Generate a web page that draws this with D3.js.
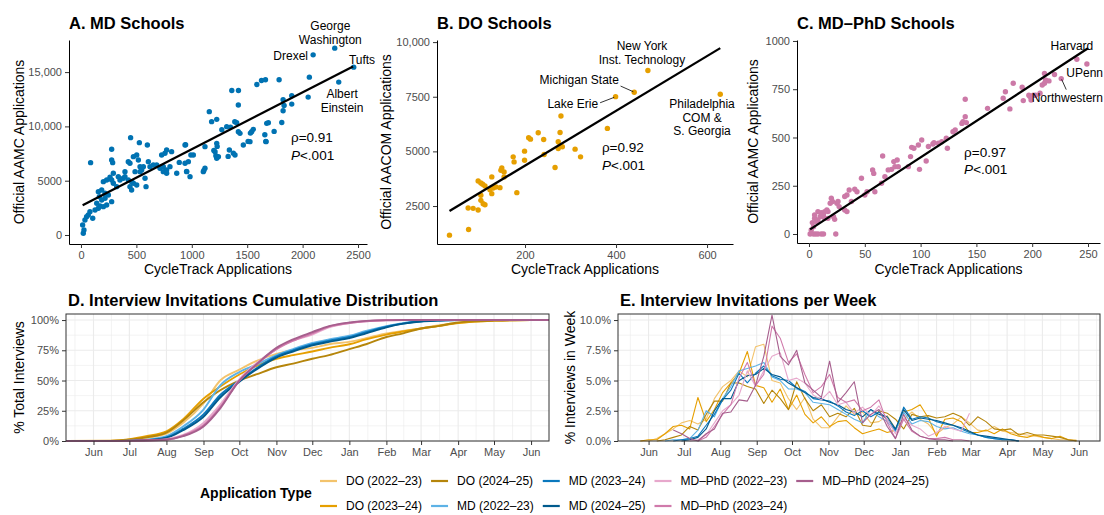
<!DOCTYPE html>
<html>
<head>
<meta charset="utf-8">
<script src="https://cdn.jsdelivr.net/npm/d3@7"></script>
<style>
  body { margin: 0; background: #fff; }
  svg { font-family: "Liberation Sans", Arial, Helvetica, sans-serif; }
</style>
</head>
<body>
<svg id="chart" width="1104" height="515"></svg>
<script>
// ---- panel A-C data: [CycleTrack applications, official applications]
const mdPoints = [
  [21,155],[27,462],[15,922],[36,1383],[51,1690],[66,1843],[81,2150],[106,1536],[127,2303],[157,2457],
  [172,2672],[142,2917],[187,3224],[202,2610],[232,2764],[277,3071],[166,3531],[217,3377],[157,3991],[187,4145],
  [217,3838],[247,3684],[292,4759],[322,4452],[277,5065],[232,5065],[202,4912],[262,5311],[292,5679],[337,5372],
  [352,5065],[382,5219],[397,5372],[427,5065],[457,4912],[442,4452],[473,4759],[503,4605],[457,4145],[442,6600],
  [473,7214],[503,7367],[518,6907],[533,6293],[548,5986],[427,6753],[397,5832],[488,5832],[533,5832],[563,6293],
  [578,5219],[587,4452],[608,6753],[623,6293],[653,6447],[683,6447],[713,6140],[743,6293],[773,5986],[803,6293],
  [758,7521],[728,7367],[773,7828],[818,7674],[743,5832],[773,5679],[864,5679],[939,6600],[954,5832],[969,6753],
  [984,5372],[939,8288],[1014,7367],[1104,5832],[1119,6140],[1119,8135],[1158,11357],[1179,10436],[1225,10651],[1225,8441],
  [1210,7674],[1225,7060],[1240,7214],[1315,9976],[1339,7828],[1375,7521],[1390,7367],[1405,10344],[1420,9515],[1435,9362],
  [1465,8288],[1525,8595],[1540,9515],[1555,9730],[1420,11971],[1676,10283],[1670,8595],[1691,10344],[277,7889],[277,6907],
  [286,6661],[448,8963],[527,8503],[599,8288],[87,6661],[1587,13863],[1629,14231],[1665,14292],[1788,14292],[1361,13311],
  [1421,13311],[1824,12452],[1902,12820],[1833,11930],[1824,11440],[1812,10366],[1902,12053],[1743,9538],[2061,14537],[2050,12697],
  [2290,17206],[2095,16590],[2461,15457],[2326,14077],[944,8311],[992,7360],[887,6685],[953,5858],[1109,5950],[1217,7300],
  [1229,8158],[1199,7790],[1328,7238],[1349,9937],[1388,10428],[1508,8618],[1529,9385],[1659,9231],[1668,8618],[1271,9692]
];
const doPoints = [
  [34,1168],[76,1429],[75,2408],[86,2393],[97,2316],[97,3648],[103,3556],[107,3495],[112,3418],[103,2760],
  [103,2990],[108,2607],[112,2561],[123,3250],[127,3066],[127,3832],[130,3327],[136,3373],[145,3342],[149,4245],
  [154,4061],[154,3832],[147,4138],[182,3112],[174,4750],[176,4520],[199,5010],[199,4597],[208,5623],[212,5561],
  [229,5852],[241,5546],[242,4857],[266,4260],[273,5439],[273,5133],[277,5867],[277,5255],[282,5209],[279,6617],
  [310,5102],[322,4750],[381,6051],[399,7505],[440,7704],[470,8699],[629,7612]
];
const phdPoints = [
  [1,0],[4,0],[6,0],[8,0],[11,0],[13,0],[24,0],[2,21],[4,38],[3,59],
  [5,81],[7,64],[8,73],[10,90],[11,111],[13,99],[14,116],[16,124],[17,116],[5,99],
  [8,116],[11,99],[14,81],[17,81],[22,90],[23,76],[19,159],[20,185],[21,168],[25,159],
  [26,168],[27,142],[32,124],[34,116],[32,194],[34,202],[36,228],[41,232],[43,219],[38,168],
  [47,289],[50,202],[52,219],[57,332],[58,314],[59,219],[65,263],[66,404],[68,297],[71,332],
  [74,335],[76,375],[79,383],[77,349],[80,349],[89,349],[91,401],[92,449],[94,444],[98,461],
  [101,487],[99,335],[105,378],[107,453],[111,466],[112,473],[116,470],[119,478],[124,444],[123,496],
  [129,530],[131,539],[137,573],[138,582],[140,608],[141,577],[140,698],[160,651],[174,703],[176,737],
  [180,648],[183,781],[191,760],[192,691],[197,719],[198,712],[199,694],[201,719],[203,719],[207,729],
  [209,772],[211,781],[212,798],[215,793],[211,832],[220,826],[226,805],[240,905],[249,881]
];

// fitted regression lines, end points
const mdFit = [[15,2730],[2455,15520]];
const doFit = [[34,2270],[629,9724]];
const phdFit = [[1,24],[250,962]];

const mdStats = ["ρ=0.91", "P<.001"];
const doStats = ["ρ=0.92", "P<.001"];
const phdStats = ["ρ=0.97", "P<.001"];

// school labels, anchored in data units
const mdLabels = [
  { lines: ["George", "Washington"], at: [2250, 18876], anchor: "middle" },
  { lines: ["Drexel"], at: [2049, 16114], anchor: "end" },
  { lines: ["Tufts"], at: [2536, 15746], anchor: "middle" },
  { lines: ["Albert", "Einstein"], at: [2356, 12615], anchor: "middle" }
];
const doLabels = [
  { lines: ["New York", "Inst. Technology"], at: [457, 9636], anchor: "middle" },
  { lines: ["Michigan State"], at: [319, 8081], anchor: "middle", seg: [[410, 7989], [438, 7729]] },
  { lines: ["Lake Erie"], at: [305, 6983], anchor: "middle", seg: [[365, 7225], [396, 7472]] },
  { lines: ["Philadelphia", "COM &", "S. Georgia"], at: [589, 6983], anchor: "middle" }
];
const phdLabels = [
  { lines: ["Harvard"], at: [235.6, 953], anchor: "middle" },
  { lines: ["UPenn"], at: [247, 813], anchor: "middle" },
  { lines: ["Northwestern"], at: [199.5, 684], anchor: "start", seg: [[226.4, 801], [230.5, 748]] }
];

// ---- panel D: cumulative share of interview invitations (%)
const cumDates = ["2023-05-09","2023-06-15","2023-07-01","2023-07-15","2023-08-01","2023-08-15","2023-09-01",
  "2023-09-15","2023-10-01","2023-10-15","2023-11-01","2023-11-15","2023-12-01","2023-12-15","2024-01-01",
  "2024-01-15","2024-02-01","2024-02-15","2024-03-01","2024-03-15","2024-04-01","2024-04-15","2024-05-01",
  "2024-06-01","2024-06-16"];
const cumDO22 = [0,0.1,0.8,2.5,6,15,31,50,59,66,72,75,77,80,82,85,89,91,93,95.5,97.5,98.8,99.5,100,100];
const cumDO23 = [0,0.2,1.5,4,8,18,35,45,55,62,68,71,74,77,80,84,88,90.5,93,95,97.5,98.8,99.5,100,100];
const cumDO24 = [0,0.1,1,3,7,17,32,42,50,55,61,64,68,71,76,80,86,89,93,95,98,99,99.5,100,100];
const cumMD22 = [0,0,0.2,1,4,12,26,46,57,63,71,76,81,84,87,91,95,97.5,99,99.7,100,100,100,100,100];
const cumMD23 = [0,0,0.1,0.6,3,10,22,38,50,60,70,75,80,83,86,90,94.5,97,99,99.6,100,100,100,100,100];
const cumMD24 = [0,0,0.1,0.5,2.5,9,20,36,49,59,69,74,79,82,85,89,94,97,98.8,99.5,100,100,100,100,100];
const cumPhD22 = [0,0,0,0.3,1.5,5,15,30,51,64,76,83,88,94,97.5,99,99.7,100,100,100,100,100,100,100,100];
const cumPhD23 = [0,0,0,0.2,1,4.5,13,28,50,63,76,83,89,94.5,97.5,99,99.8,100,100,100,100,100,100,100,100];
const cumPhD24 = [0,0,0.3,0.8,1.2,4,12,27,50,63,77,84,90,95,98,99.3,99.9,100,100,100,100,100,100,100,100];

// ---- panel E: share of interview invitations per week (%), weekly from a start date
const weekStart = {
  DO22: "2023-05-25", DO23: "2023-05-25", DO24: "2023-06-08",
  MD22: "2023-06-15", MD23: "2023-06-22", MD24: "2023-06-29",
  PhD22: "2023-07-06", PhD23: "2023-07-13", PhD24: "2023-06-22"
};
const wkDO22 = [0,0,0.2,0.6,1.0,1.5,1.7,1.4,1.8,3.5,4.5,5.0,5.8,5.3,7.8,8.0,5.0,4.8,3.5,2.6,3.6,1.8,1.1,1.1,2.0,2.9,
  2.2,2.4,1.5,1.6,2.1,1.0,1.8,2.4,1.8,1.4,0.6,1.1,1.4,2.0,1.5,0.9,0.8,1.2,0.8,0.7,0.6,0.5,0.4,0.3,0.2,0.1,0.1,0];
const wkDO23 = [0,0.1,0.1,0.6,1.2,1.3,1.0,3.6,1.6,2.6,4.0,4.8,5.6,7.4,4.6,4.4,3.2,4.3,2.6,3.8,2.2,1.5,2.0,1.2,1.6,
  1.7,1.1,0.6,0.8,1.0,0.7,0.9,2.4,2.6,3.0,1.9,0.4,1.8,1.9,1.6,0.7,0.7,0.9,0.6,1.0,0.6,0.4,0.3,0.5,0.3,0.2,0.4,0.1,0.05];
const wkDO24 = [0,0.1,0.3,0.5,1.2,0.9,2.2,3.3,3.3,4.8,4.8,4.5,4.3,3.1,4.2,3.5,2.6,4.9,3.5,2.5,3.0,2.0,2.3,2.0,2.7,1.3,
  1.2,2.5,2.3,1.8,1.0,2.2,2.0,2.1,1.9,2.0,2.3,2.0,1.3,2.0,1.6,1.0,0.9,1.0,0.5,0.7,0.5,0.5,0.4,0.3,0.1,0];
const wkMD22 = [0,0.1,0.1,0.2,0.9,2.5,2.0,3.5,4.5,5.8,6.0,6.2,6.5,5.3,5.0,4.3,4.3,4.0,3.2,3.1,3.0,2.6,2.2,1.8,1.5,
  2.6,2.0,1.6,0.8,2.4,1.4,1.7,1.6,1.2,1.0,1.1,0.8,0.6,0.5,0.3,0.2,0.1,0.1,0];
const wkMD23 = [0,0.1,0.2,0.4,1.3,2.2,3.4,4.2,5.6,4.8,5.6,6.2,5.4,5.1,5.0,4.4,4.1,3.5,3.4,3.3,2.9,2.4,2.1,2.5,2.0,
  2.4,1.8,0.9,2.8,1.8,2.0,1.9,1.6,1.4,1.3,1.0,0.7,0.5,0.3,0.2,0.1,0.1,0];
const wkMD24 = [0,0.1,0.3,1.0,2.5,3.5,3.5,5.0,5.4,5.5,6.0,5.5,5.3,4.8,4.4,4.0,3.6,3.5,3.2,3.0,2.6,2.4,2.0,2.6,2.2,
  2.0,1.0,2.6,1.7,1.9,1.8,1.7,1.5,1.3,1.1,0.8,0.5,0.4,0.3,0.2,0.1,0];
const wkPhD22 = [0,0.1,0.5,1.5,2.5,3.0,3.8,5.8,4.5,5.8,7.0,7.3,5.0,5.2,4.8,3.8,3.4,4.1,3.0,3.2,2.3,2.8,2.1,2.9,1.8,
  0.6,1.9,1.3,1.0,0.4,0.7,1.2,1.0,0.8,2.3];
const wkPhD23 = [0,0.3,1.2,2.2,3.0,5.2,6.5,4.6,5.5,9.5,8.5,6.5,7.2,5.5,4.0,4.5,5.5,3.6,3.2,3.4,2.5,2.8,3.4,1.5,0.2,
  1.8,0.8,0.4,0.2,0.2,0.3,0.1,0.1,0];
const wkPhD24 = [0.9,0.6,0.2,0,0.6,1.0,2.3,2.4,3.4,3.3,4.6,7.0,10.4,7.0,6.3,7.5,4.8,4.2,3.6,6.6,3.2,4.0,4.9,1.5,2.2,
  2.6,1.2,0.2,2.2,0.9,0.4,0.2,0.1,0.1,0];

const seriesKeys = ["DO22","DO23","DO24","MD22","MD23","MD24","PhD22","PhD23","PhD24"];
const seriesNames = ["DO (2022–23)","DO (2023–24)","DO (2024–25)","MD (2022–23)","MD (2023–24)","MD (2024–25)",
  "MD–PhD (2022–23)","MD–PhD (2023–24)","MD–PhD (2024–25)"];
const seriesColors = ["#F3C36C","#E69F00","#B5850B","#5DB2E6","#0A78BD","#005A8D","#E7A8CC","#D07AAB","#A65E8D"];
const cumValues = [cumDO22,cumDO23,cumDO24,cumMD22,cumMD23,cumMD24,cumPhD22,cumPhD23,cumPhD24];
const weekValues = [wkDO22,wkDO23,wkDO24,wkMD22,wkMD23,wkMD24,wkPhD22,wkPhD23,wkPhD24];

const monthTicksFrom = "2023-06-01", monthTicksTo = "2024-06-01";

// ------------------------------------------------------------------
const svg = d3.select("#chart");
const FONT = "'Liberation Sans', Arial, Helvetica, sans-serif";
const parse = d3.timeParse("%Y-%m-%d");
const bigComma = v => v >= 10000 ? d3.format(",")(v) : String(v);

function styleAxis(g, lineColor) {
  g.attr("font-family", FONT).attr("font-size", 11);
  g.selectAll(".tick line").attr("stroke", "#333");
  g.selectAll(".tick text").attr("fill", "#4D4D4D");
  g.select(".domain").attr("stroke", lineColor).attr("stroke-width", 1);
}

function scatterPanel(c) {
  const x = d3.scaleLinear().domain(c.xDomain).range([c.left, c.right]);
  const y = d3.scaleLinear().domain(c.yDomain).range([c.bottom, c.top]);
  const g = svg.append("g");

  g.append("g").attr("transform", `translate(0,${c.bottom})`)
    .call(d3.axisBottom(x).tickValues(c.xTicks).tickFormat(bigComma).tickSize(4).tickSizeOuter(0).tickPadding(3))
    .call(a => styleAxis(a, "#000"));
  g.append("g").attr("transform", `translate(${c.left},0)`)
    .call(d3.axisLeft(y).tickValues(c.yTicks).tickFormat(bigComma).tickSize(4).tickSizeOuter(0).tickPadding(3))
    .call(a => styleAxis(a, "#000"));

  g.append("g").selectAll("circle").data(c.points).join("circle")
    .attr("cx", d => x(d[0])).attr("cy", d => y(d[1])).attr("r", 2.7).attr("fill", c.color);

  g.append("line")
    .attr("x1", x(c.fit[0][0])).attr("y1", y(c.fit[0][1]))
    .attr("x2", x(c.fit[1][0])).attr("y2", y(c.fit[1][1]))
    .attr("stroke", "#000").attr("stroke-width", 2.3);

  c.labels.forEach(l => {
    if (l.seg) {
      g.append("line")
        .attr("x1", x(l.seg[0][0])).attr("y1", y(l.seg[0][1]))
        .attr("x2", x(l.seg[1][0])).attr("y2", y(l.seg[1][1]))
        .attr("stroke", "#000").attr("stroke-width", 0.8);
    }
    const t = g.append("text").attr("font-size", 12).attr("text-anchor", l.anchor)
      .attr("x", x(l.at[0])).attr("y", y(l.at[1]));
    l.lines.forEach((s, i) => t.append("tspan").attr("x", x(l.at[0])).attr("dy", i ? 13.5 : 0).text(s));
  });

  const st = g.append("text").attr("font-size", 13.5).attr("x", x(c.statAt[0])).attr("y", y(c.statAt[1]));
  st.append("tspan").text(c.stats[0]);
  st.append("tspan").attr("x", x(c.statAt[0])).attr("dy", 17.5)
    .attr("font-style", "italic").text(c.stats[1].slice(0, 1));
  st.append("tspan").text(c.stats[1].slice(1));

  g.append("text").attr("x", c.left).attr("y", 29).attr("font-size", 16.5).attr("font-weight", "bold").text(c.title);
  g.append("text").attr("x", (c.left + c.right) / 2).attr("y", 274).attr("text-anchor", "middle")
    .attr("font-size", 14).text("CycleTrack Applications");
  g.append("text").attr("transform", `translate(${c.yTitleX},${(c.top + c.bottom) / 2}) rotate(-90)`)
    .attr("text-anchor", "middle").attr("font-size", 14).text(c.yTitle);
}

scatterPanel({
  left: 69, right: 367, top: 40, bottom: 244,
  xDomain: [-108, 2581], yDomain: [-829, 17956],
  xTicks: [0, 500, 1000, 1500, 2000, 2500], yTicks: [0, 5000, 10000, 15000],
  points: mdPoints, fit: mdFit, color: "#0072B2", labels: mdLabels,
  stats: mdStats, statAt: [1895, 8563],
  title: "A. MD Schools", yTitle: "Official AAMC Applications", yTitleX: 24
});
scatterPanel({
  left: 437, right: 733, top: 40, bottom: 244,
  xDomain: [6.6, 657], yDomain: [763, 10096],
  xTicks: [200, 400, 600], yTicks: [2500, 5000, 7500, 10000],
  points: doPoints, fit: doFit, color: "#E69F00", labels: doLabels,
  stats: doStats, statAt: [369, 4971],
  title: "B. DO Schools", yTitle: "Official AACOM Applications", yTitleX: 391
});
scatterPanel({
  left: 797, right: 1100, top: 40, bottom: 243,
  xDomain: [-10.75, 260.75], yDomain: [-46.6, 1005],
  xTicks: [0, 50, 100, 150, 200, 250], yTicks: [0, 250, 500, 750, 1000],
  points: phdPoints, fit: phdFit, color: "#CC79A7", labels: phdLabels,
  stats: phdStats, statAt: [139, 399],
  title: "C. MD–PhD Schools", yTitle: "Official AAMC Applications", yTitleX: 758
});

function timePanel(c) {
  const x = d3.scaleTime().domain(c.xDomain.map(parse)).range([c.left, c.right]);
  const y = d3.scaleLinear().domain(c.yDomain).range([c.bottom, c.top]);
  const g = svg.append("g");
  const [d0, d1] = x.domain();

  const majors = d3.timeMonth.range(parse(monthTicksFrom), d3.timeDay.offset(parse(monthTicksTo), 1));
  const allMonths = d3.timeMonth.range(d3.timeMonth.offset(majors[0], -1), d3.timeMonth.offset(majors[majors.length - 1], 2));
  const minorX = d3.pairs(allMonths).map(([a, b]) => new Date((+a + +b) / 2)).filter(d => d > d0 && d < d1);
  const minorY = d3.pairs(c.yTicks).map(([a, b]) => (a + b) / 2);

  const grid = g.append("g");
  grid.selectAll(".mx").data(minorX).join("line")
    .attr("x1", d => x(d)).attr("x2", d => x(d)).attr("y1", c.top).attr("y2", c.bottom)
    .attr("stroke", "#EBEBEB").attr("stroke-width", 0.6);
  grid.selectAll(".my").data(minorY).join("line")
    .attr("x1", c.left).attr("x2", c.right).attr("y1", d => y(d)).attr("y2", d => y(d))
    .attr("stroke", "#EBEBEB").attr("stroke-width", 0.6);
  grid.selectAll(".Mx").data(majors).join("line")
    .attr("x1", d => x(d)).attr("x2", d => x(d)).attr("y1", c.top).attr("y2", c.bottom)
    .attr("stroke", "#EBEBEB").attr("stroke-width", 1.1);
  grid.selectAll(".My").data(c.yTicks).join("line")
    .attr("x1", c.left).attr("x2", c.right).attr("y1", d => y(d)).attr("y2", d => y(d))
    .attr("stroke", "#EBEBEB").attr("stroke-width", 1.1);

  const line = d3.line().x(d => x(d[0])).y(d => y(d[1])).curve(c.curve);
  g.append("g").selectAll("path").data(c.series).join("path")
    .attr("d", s => line(s.pts)).attr("fill", "none")
    .attr("stroke", s => s.color).attr("stroke-width", c.lineWidth).attr("stroke-linejoin", "round");

  g.append("rect").attr("x", c.left).attr("y", c.top)
    .attr("width", c.right - c.left).attr("height", c.bottom - c.top)
    .attr("fill", "none").attr("stroke", "#333").attr("stroke-width", 1);

  g.append("g").attr("transform", `translate(0,${c.bottom})`)
    .call(d3.axisBottom(x).tickValues(majors).tickFormat(d3.timeFormat("%b")).tickSize(4).tickSizeOuter(0).tickPadding(3))
    .call(a => { styleAxis(a, "none"); a.select(".domain").remove(); });
  g.append("g").attr("transform", `translate(${c.left},0)`)
    .call(d3.axisLeft(y).tickValues(c.yTicks).tickFormat(c.yFormat).tickSize(4).tickSizeOuter(0).tickPadding(3))
    .call(a => { styleAxis(a, "none"); a.select(".domain").remove(); });

  g.append("text").attr("x", c.left + 2).attr("y", 306).attr("font-size", 16.5).attr("font-weight", "bold").text(c.title);
  g.append("text").attr("transform", `translate(${c.yTitleX},${(c.top + c.bottom) / 2}) rotate(-90)`)
    .attr("text-anchor", "middle").attr("font-size", 14).text(c.yTitle);
}

const cumSeries = seriesKeys.map((k, i) => ({
  color: seriesColors[i],
  pts: cumValues[i].map((v, j) => [parse(cumDates[j]), v])
}));
const weekSeries = seriesKeys.map((k, i) => ({
  color: seriesColors[i],
  pts: weekValues[i].map((v, j) => [d3.timeDay.offset(parse(weekStart[k]), 7 * j), v])
}));

timePanel({
  left: 66, right: 549, top: 314, bottom: 441,
  xDomain: ["2023-05-09", "2024-06-16"], yDomain: [0, 105],
  yTicks: [0, 25, 50, 75, 100], yFormat: d => d + "%",
  series: cumSeries, lineWidth: 1.9, curve: d3.curveMonotoneX,
  title: "D. Interview Invitations Cumulative Distribution", yTitle: "% Total Interviews", yTitleX: 24
});
timePanel({
  left: 618, right: 1100, top: 314, bottom: 441,
  xDomain: ["2023-05-06", "2024-06-19"], yDomain: [0, 10.5],
  yTicks: [0, 2.5, 5, 7.5, 10], yFormat: d => d.toFixed(1) + "%",
  series: weekSeries, lineWidth: 1.1, curve: d3.curveLinear,
  title: "E. Interview Invitations per Week", yTitle: "% Interviews in Week", yTitleX: 575
});

// ---- legend (two rows, filled by column)
const leg = svg.append("g").attr("font-size", 12);
leg.append("text").attr("x", 200).attr("y", 498).attr("font-size", 14).attr("font-weight", "bold").text("Application Type");
const rowY = [481, 506];
let colX = 319;
for (let col = 0; col * 2 < seriesKeys.length; col++) {
  let maxW = 0;
  [0, 1].forEach(r => {
    const i = col * 2 + r;
    if (i >= seriesKeys.length) return;
    leg.append("line").attr("x1", colX + 1).attr("x2", colX + 18).attr("y1", rowY[r]).attr("y2", rowY[r])
      .attr("stroke", seriesColors[i]).attr("stroke-width", 2.2);
    const t = leg.append("text").attr("x", colX + 27).attr("y", rowY[r] + 4).text(seriesNames[i]);
    maxW = Math.max(maxW, t.node().getComputedTextLength());
  });
  colX += 27 + maxW + 8;
}
</script>
</body>
</html>
